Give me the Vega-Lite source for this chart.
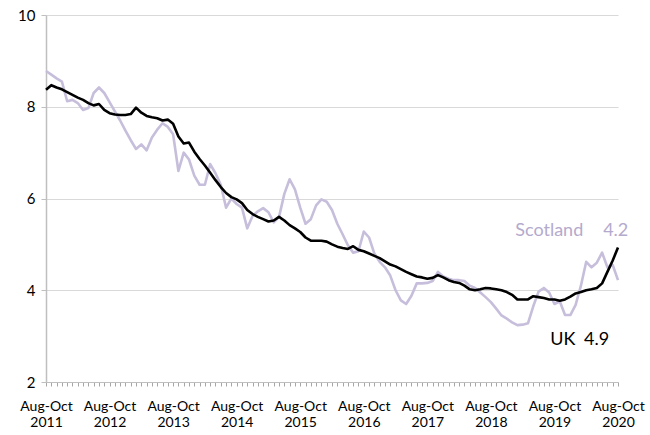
{
  "$schema": "https://vega.github.io/schema/vega-lite/v6.json",
  "width": 572,
  "height": 367,
  "autosize": "none",
  "padding": {"left": 46, "top": 15, "right": 32, "bottom": 53},
  "background": "white",
  "config": {"view": {"stroke": null}, "font": "Lato"},
  "datasets": {
    "rates": [
      {"m":0,"UK":8.37,"Scotland":8.78},{"m":1,"UK":8.47,"Scotland":8.7},{"m":2,"UK":8.42,"Scotland":8.62},{"m":3,"UK":8.38,"Scotland":8.55},{"m":4,"UK":8.32,"Scotland":8.12},{"m":5,"UK":8.26,"Scotland":8.15},{"m":6,"UK":8.2,"Scotland":8.08},{"m":7,"UK":8.15,"Scotland":7.93},{"m":8,"UK":8.08,"Scotland":7.97},{"m":9,"UK":8.03,"Scotland":8.3},{"m":10,"UK":8.06,"Scotland":8.42},{"m":11,"UK":7.93,"Scotland":8.3},
      {"m":12,"UK":7.86,"Scotland":8.1},{"m":13,"UK":7.83,"Scotland":7.9},{"m":14,"UK":7.82,"Scotland":7.7},{"m":15,"UK":7.82,"Scotland":7.48},{"m":16,"UK":7.84,"Scotland":7.27},{"m":17,"UK":7.98,"Scotland":7.08},{"m":18,"UK":7.87,"Scotland":7.18},{"m":19,"UK":7.8,"Scotland":7.05},{"m":20,"UK":7.77,"Scotland":7.33},{"m":21,"UK":7.75,"Scotland":7.5},{"m":22,"UK":7.7,"Scotland":7.64},{"m":23,"UK":7.72,"Scotland":7.56},
      {"m":24,"UK":7.63,"Scotland":7.4},{"m":25,"UK":7.35,"Scotland":6.6},{"m":26,"UK":7.2,"Scotland":7.0},{"m":27,"UK":7.22,"Scotland":6.85},{"m":28,"UK":7.02,"Scotland":6.5},{"m":29,"UK":6.86,"Scotland":6.3},{"m":30,"UK":6.72,"Scotland":6.3},{"m":31,"UK":6.56,"Scotland":6.75},{"m":32,"UK":6.4,"Scotland":6.55},{"m":33,"UK":6.25,"Scotland":6.3},{"m":34,"UK":6.12,"Scotland":5.8},{"m":35,"UK":6.03,"Scotland":6.0},
      {"m":36,"UK":5.98,"Scotland":5.88},{"m":37,"UK":5.9,"Scotland":5.8},{"m":38,"UK":5.75,"Scotland":5.35},{"m":39,"UK":5.66,"Scotland":5.62},{"m":40,"UK":5.6,"Scotland":5.72},{"m":41,"UK":5.55,"Scotland":5.79},{"m":42,"UK":5.5,"Scotland":5.7},{"m":43,"UK":5.52,"Scotland":5.48},{"m":44,"UK":5.6,"Scotland":5.6},{"m":45,"UK":5.52,"Scotland":6.1},{"m":46,"UK":5.42,"Scotland":6.42},{"m":47,"UK":5.35,"Scotland":6.2},
      {"m":48,"UK":5.27,"Scotland":5.8},{"m":49,"UK":5.15,"Scotland":5.45},{"m":50,"UK":5.08,"Scotland":5.55},{"m":51,"UK":5.08,"Scotland":5.85},{"m":52,"UK":5.08,"Scotland":5.98},{"m":53,"UK":5.06,"Scotland":5.93},{"m":54,"UK":5.0,"Scotland":5.75},{"m":55,"UK":4.95,"Scotland":5.45},{"m":56,"UK":4.92,"Scotland":5.22},{"m":57,"UK":4.9,"Scotland":4.98},{"m":58,"UK":4.96,"Scotland":4.82},{"m":59,"UK":4.88,"Scotland":4.85},
      {"m":60,"UK":4.85,"Scotland":5.28},{"m":61,"UK":4.8,"Scotland":5.15},{"m":62,"UK":4.75,"Scotland":4.8},{"m":63,"UK":4.7,"Scotland":4.62},{"m":64,"UK":4.63,"Scotland":4.5},{"m":65,"UK":4.56,"Scotland":4.32},{"m":66,"UK":4.52,"Scotland":4.0},{"m":67,"UK":4.46,"Scotland":3.78},{"m":68,"UK":4.4,"Scotland":3.7},{"m":69,"UK":4.35,"Scotland":3.88},{"m":70,"UK":4.3,"Scotland":4.15},{"m":71,"UK":4.28,"Scotland":4.15},
      {"m":72,"UK":4.25,"Scotland":4.16},{"m":73,"UK":4.27,"Scotland":4.2},{"m":74,"UK":4.33,"Scotland":4.4},{"m":75,"UK":4.28,"Scotland":4.3},{"m":76,"UK":4.22,"Scotland":4.25},{"m":77,"UK":4.18,"Scotland":4.22},{"m":78,"UK":4.16,"Scotland":4.22},{"m":79,"UK":4.1,"Scotland":4.2},{"m":80,"UK":4.02,"Scotland":4.1},{"m":81,"UK":4.0,"Scotland":4.05},{"m":82,"UK":4.02,"Scotland":3.95},{"m":83,"UK":4.05,"Scotland":3.85},
      {"m":84,"UK":4.04,"Scotland":3.74},{"m":85,"UK":4.02,"Scotland":3.6},{"m":86,"UK":4.0,"Scotland":3.45},{"m":87,"UK":3.96,"Scotland":3.38},{"m":88,"UK":3.9,"Scotland":3.3},{"m":89,"UK":3.8,"Scotland":3.24},{"m":90,"UK":3.8,"Scotland":3.25},{"m":91,"UK":3.8,"Scotland":3.28},{"m":92,"UK":3.87,"Scotland":3.65},{"m":93,"UK":3.85,"Scotland":3.97},{"m":94,"UK":3.83,"Scotland":4.05},{"m":95,"UK":3.8,"Scotland":3.95},
      {"m":96,"UK":3.8,"Scotland":3.7},{"m":97,"UK":3.77,"Scotland":3.76},{"m":98,"UK":3.8,"Scotland":3.46},{"m":99,"UK":3.86,"Scotland":3.46},{"m":100,"UK":3.93,"Scotland":3.68},{"m":101,"UK":3.96,"Scotland":4.1},{"m":102,"UK":4.0,"Scotland":4.62},{"m":103,"UK":4.02,"Scotland":4.5},{"m":104,"UK":4.05,"Scotland":4.6},{"m":105,"UK":4.15,"Scotland":4.82},{"m":106,"UK":4.4,"Scotland":4.5},{"m":107,"UK":4.65,"Scotland":4.55},{"m":108,"UK":4.93,"Scotland":4.22}
    ]
  },
  "layer": [
    {
      "data": {"name": "rates"},
      "transform": [{"fold": ["Scotland", "UK"], "as": ["area", "rate"]}],
      "mark": {"type": "line", "strokeWidth": 2.6, "strokeJoin": "round", "clip": false},
      "encoding": {
        "x": {
          "field": "m", "type": "quantitative",
          "scale": {"domain": [0, 108], "nice": false, "zero": false},
          "axis": {
            "title": null,
            "values": [0,1,2,3,4,5,6,7,8,9,10,11,12,13,14,15,16,17,18,19,20,21,22,23,24,25,26,27,28,29,30,31,32,33,34,35,36,37,38,39,40,41,42,43,44,45,46,47,48,49,50,51,52,53,54,55,56,57,58,59,60,61,62,63,64,65,66,67,68,69,70,71,72,73,74,75,76,77,78,79,80,81,82,83,84,85,86,87,88,89,90,91,92,93,94,95,96,97,98,99,100,101,102,103,104,105,106,107,108],
            "tickCount": 500,
            "labelExpr": "datum.value % 12 == 0 ? ['Aug-Oct', '' + (2011 + datum.value / 12)] : ''",
            "labelOverlap": false,
            "labelFlush": false,
            "labelFontSize": 14,
            "labelColor": "#000000",
            "labelLineHeight": 16,
            "labelPadding": 13,
            "labelBaseline": "top",
            "grid": false,
            "domainColor": "#bfbfbf",
            "domainWidth": 1,
            "tickColor": "#a6a6a6",
            "tickSize": 4,
            "tickWidth": 1
          }
        },
        "y": {
          "field": "rate", "type": "quantitative",
          "scale": {"domain": [2, 10], "nice": false, "zero": false},
          "axis": {
            "title": null,
            "values": [2, 4, 6, 8, 10],
            "labelFontSize": 15,
            "labelColor": "#000000",
            "labelPadding": 6,
            "grid": true,
            "gridColor": "#d9d9d9",
            "gridWidth": 1,
            "domainColor": "#bfbfbf",
            "domainWidth": 1.5,
            "tickColor": "#bfbfbf",
            "tickSize": 5,
            "tickWidth": 1
          }
        },
        "color": {
          "field": "area", "type": "nominal",
          "scale": {"domain": ["Scotland", "UK"], "range": ["#c6bedb", "#000000"]},
          "legend": null
        }
      }
    },
    {
      "data": {"values": [{"label": "Scotland"}]},
      "mark": {"type": "text", "align": "left", "baseline": "middle", "fontSize": 18, "color": "#b4aacd", "clip": false},
      "encoding": {
        "x": {"datum": 88.6, "type": "quantitative"},
        "y": {"datum": 5.29, "type": "quantitative"},
        "text": {"field": "label"}
      }
    },
    {
      "data": {"values": [{"label": "4.2"}]},
      "mark": {"type": "text", "align": "left", "baseline": "middle", "fontSize": 18, "color": "#b4aacd", "clip": false},
      "encoding": {
        "x": {"datum": 105.2, "type": "quantitative"},
        "y": {"datum": 5.29, "type": "quantitative"},
        "text": {"field": "label"}
      }
    },
    {
      "data": {"values": [{"label": "UK"}]},
      "mark": {"type": "text", "align": "left", "baseline": "middle", "fontSize": 18, "color": "#000000", "clip": false},
      "encoding": {
        "x": {"datum": 95.2, "type": "quantitative"},
        "y": {"datum": 2.92, "type": "quantitative"},
        "text": {"field": "label"}
      }
    },
    {
      "data": {"values": [{"label": "4.9"}]},
      "mark": {"type": "text", "align": "left", "baseline": "middle", "fontSize": 18, "color": "#000000", "clip": false},
      "encoding": {
        "x": {"datum": 101.6, "type": "quantitative"},
        "y": {"datum": 2.92, "type": "quantitative"},
        "text": {"field": "label"}
      }
    }
  ]
}
